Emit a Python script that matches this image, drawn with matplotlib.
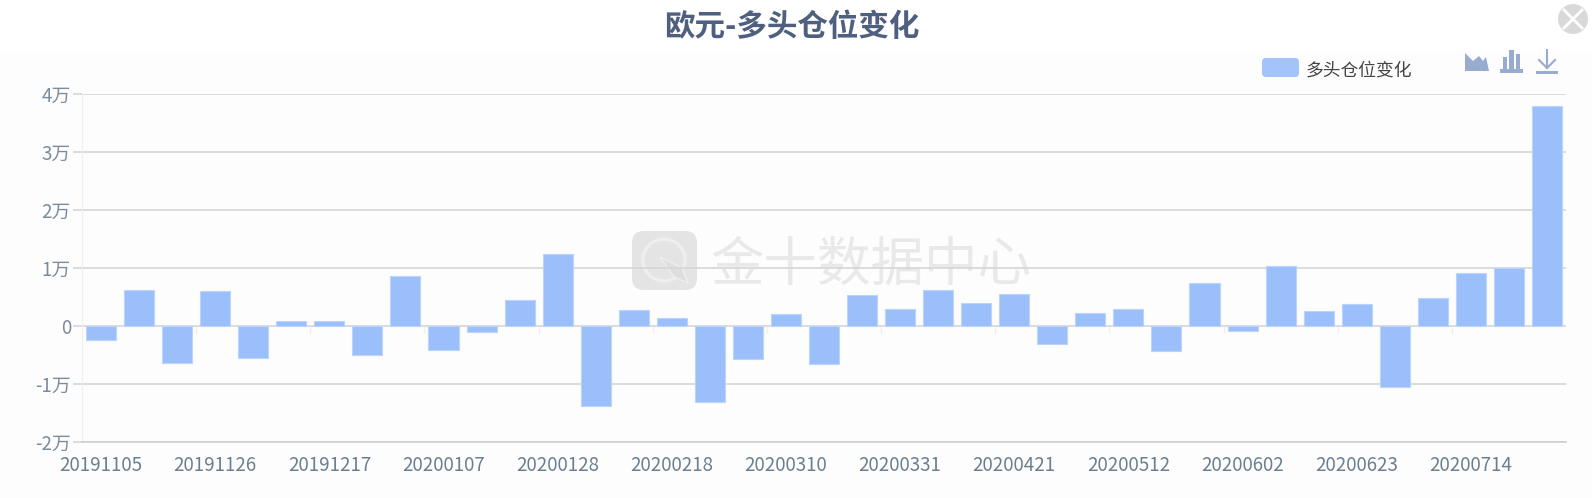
import matplotlib
matplotlib.use('Agg')
import matplotlib.pyplot as plt
from matplotlib.patches import Circle, FancyBboxPatch, Polygon, Rectangle

plt.rcParams['font.family'] = ['Noto Sans CJK SC', 'DejaVu Sans']

# Weekly dates on the x axis
dates = ['20191105', '20191112', '20191119', '20191126', '20191203', '20191210', '20191217',
         '20191224', '20191231', '20200107', '20200114', '20200121', '20200128', '20200204',
         '20200211', '20200218', '20200225', '20200303', '20200310', '20200317', '20200324',
         '20200331', '20200407', '20200414', '20200421', '20200428', '20200505', '20200512',
         '20200519', '20200526', '20200602', '20200609', '20200616', '20200623', '20200630',
         '20200707', '20200714', '20200721', '20200728']

# Values in units of 万
changes = [-0.24, 0.62, -0.64, 0.60, -0.55, 0.08, 0.08, -0.50, 0.87, -0.41, -0.11, 0.45, 1.25,
           -1.38, 0.27, 0.13, -1.31, -0.57, 0.20, -0.66, 0.54, 0.29, 0.62, 0.40, 0.55, -0.32,
           0.22, 0.29, -0.43, 0.74, -0.09, 1.04, 0.25, 0.38, -1.05, 0.49, 0.92, 1.00, 3.80]

y_ticks = [-2, -1, 0, 1, 2, 3, 4]
y_labels = ['-2万', '-1万', '0', '1万', '2万', '3万', '4万']

W, H = 1595, 498
fig = plt.figure(figsize=(W / 100, H / 100), dpi=100, facecolor='white')

# Overlay in pixel coordinates for panel, title, legend and toolbar
bg = fig.add_axes([0, 0, 1, 1], zorder=0)
bg.set_xlim(0, W)
bg.set_ylim(H, 0)
bg.axis('off')
bg.add_patch(Rectangle((0, 52), W - 3, H - 52, color='#fdfdfd', lw=0))

# Watermark
bg.add_patch(FancyBboxPatch((632, 231), 65, 59, boxstyle='round,pad=0,rounding_size=12', lw=0, fc='#e4e4e4'))
bg.add_patch(Circle((664, 260), 21, fc='#e4e4e4', ec='#eeeeee', lw=2.5))
bg.add_patch(Polygon([(660, 257), (682, 268), (688, 283), (674, 277)], fc='#dedede', ec='#eeeeee', lw=1))
bg.text(871, 265, '金十数据中心', fontsize=38.5, color='#e9e9e9', ha='center', va='center')

ax = fig.add_axes([82 / W, 1 - 441.7 / H, (1566 - 82) / W, (441.7 - 94.3) / H], zorder=1)
ax.patch.set_alpha(0)
x = list(range(len(dates)))
ax.bar(x, changes, width=0.79, color='#9bbffb', edgecolor='#bcd3fc', linewidth=0.8, zorder=3)
ax.set_xlim(-0.5, len(dates) - 0.5)
ax.set_ylim(-2, 4)
ax.set_yticks(y_ticks)
ax.set_yticklabels(y_labels)
ax.set_xticks(x[::3])
ax.set_xticklabels(dates[::3])
ax.grid(axis='y', color='#d6d6d6', lw=1.2, zorder=1)
# Faint category ticks hanging under the zero line
ax.vlines([i - 0.5 for i in x[::3]], -0.12, 0, color='#eeeeee', lw=1, zorder=2)
ax.tick_params(axis='y', length=6.5, width=1.2, color='#d6d6d6', labelcolor='#7d8c9a', labelsize=13.5, pad=1.5)
ax.tick_params(axis='x', length=0, labelcolor='#6b7f90', labelsize=13.5, pad=9.5)
for side in ['top', 'right']:
    ax.spines[side].set_visible(False)
ax.spines['left'].set_color('#efefef')
ax.spines['bottom'].set_color('#cfcfcf')
ax.spines['bottom'].set_linewidth(1.2)

# Title and close button
bg.text(792, 27, '欧元-多头仓位变化', fontsize=22, fontweight='bold', color='#4f5f7f', ha='center', va='center')
bg.add_patch(Circle((1573, 19), 15, fc='#d9d9d9', lw=0))
bg.plot([1564, 1582], [10, 28], color='white', lw=2)
bg.plot([1564, 1582], [28, 10], color='white', lw=2)

# Legend
bg.add_patch(FancyBboxPatch((1264, 60), 33, 15, boxstyle='round,pad=2,rounding_size=4', fc='#a3c4fa', lw=0))
bg.text(1306, 71, '多头仓位变化', fontsize=12.8, color='#444444', ha='left', va='center')

# Toolbar icons
icon = '#98acd0'
bg.add_patch(Polygon([(1465, 71), (1465, 53), (1473, 61), (1479, 56), (1483, 61), (1486, 57), (1489, 71)], fc=icon, lw=0))
bg.add_patch(Rectangle((1500, 69), 23, 4, fc=icon, lw=0))
bg.add_patch(Rectangle((1503, 57), 4, 12, fc=icon, lw=0))
bg.add_patch(Rectangle((1509, 50), 5, 19, fc=icon, lw=0))
bg.add_patch(Rectangle((1516, 54), 4, 15, fc=icon, lw=0))
bg.add_patch(Rectangle((1536, 71), 22, 3, fc=icon, lw=0))
bg.plot([1547, 1547], [50, 68], color=icon, lw=1.5)
bg.plot([1539, 1547, 1555], [60, 68, 60], color=icon, lw=1.5)

fig.savefig('out.png', dpi=100)
